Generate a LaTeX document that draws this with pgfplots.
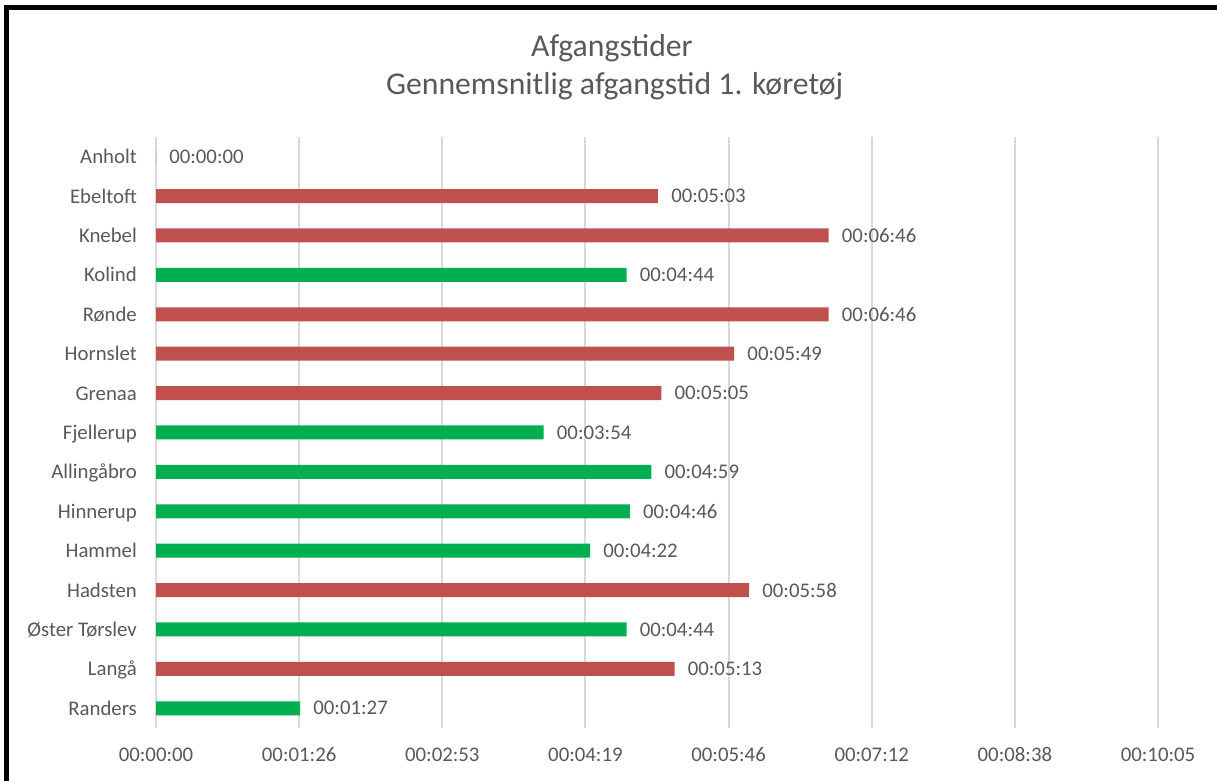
\documentclass[border=0pt]{standalone}
\usepackage{pgfplots}
\pgfplotsset{compat=1.18}
\usepackage{pgfplotstable}
\usepackage{fontspec}
\setmainfont{Carlito}
\definecolor{txt}{HTML}{595959}
\definecolor{gridc}{HTML}{D9D9D9}
\definecolor{redbar}{HTML}{C0504D}
\definecolor{greenbar}{HTML}{00B050}
\pgfplotstableread{
x y label
303 13 00:05:03
406 12 00:06:46
406 10 00:06:46
349 9 00:05:49
305 8 00:05:05
358 3 00:05:58
313 1 00:05:13
}\redtab
\pgfplotstableread{
x y label
0 14 00:00:00
284 11 00:04:44
234 7 00:03:54
299 6 00:04:59
286 5 00:04:46
262 4 00:04:22
284 2 00:04:44
87 0 00:01:27
}\greentab
\begin{document}
\begin{tikzpicture}
\path[use as bounding box] (0,0) rectangle (912.75pt,585.75pt);
\fill[white] (0,0) rectangle (912.75pt,585.75pt);
\draw[black, line width=3.75pt] (4.875pt,0) -- (4.875pt,580.125pt) -- (912.75pt,580.125pt);
\node[text=txt, font=\fontsize{23.8}{28}\selectfont, anchor=base, inner sep=0pt] at (459pt,543pt) {Afgangstider};
\node[text=txt, font=\fontsize{23.8}{28}\selectfont, anchor=base, inner sep=0pt] at (461pt,514.5pt) {Gennemsnitlig afgangstid 1. køretøj};
\begin{axis}[
  at={(117pt,39.75pt)}, anchor=south west,
  scale only axis, width=751.5pt, height=443.25pt,
  xmin=0, xmax=604.8, ymin=-0.5, ymax=14.5,
  xbar, bar width=10.5pt, bar shift=0pt,
  xtick={0,86.4,172.8,259.2,345.6,432,518.4,604.8},
  xticklabels={00:00:00,00:01:26,00:02:53,00:04:19,00:05:46,00:07:12,00:08:38,00:10:05},
  ytick={0,...,14},
  yticklabels={Randers,Langå,Øster Tørslev,Hadsten,Hammel,Hinnerup,Allingåbro,Fjellerup,Grenaa,Hornslet,Rønde,Kolind,Knebel,Ebeltoft,Anholt},
  xmajorgrids, grid style={gridc, line width=1.5pt},
  axis line style={draw=none}, tick style={draw=none},
  ticklabel style={font=\fontsize{15.6}{18}\selectfont, text=txt},
  xticklabel style={anchor=center, inner sep=0pt, yshift=-19.9pt},
  yticklabel style={anchor=base east, inner sep=0pt, xshift=-9.9pt, yshift=-5.2pt},
  nodes near coords, point meta=explicit symbolic,
  every node near coord/.append style={anchor=west, inner sep=0pt, xshift=9.75pt, font=\fontsize{15.6}{18}\selectfont, text=txt},
  clip=false,
]
\addplot[fill=redbar, draw=none] table[x=x, y=y, meta=label] {\redtab};
\addplot[fill=greenbar, draw=none] table[x=x, y=y, meta=label] {\greentab};
\end{axis}
\end{tikzpicture}
\end{document}
